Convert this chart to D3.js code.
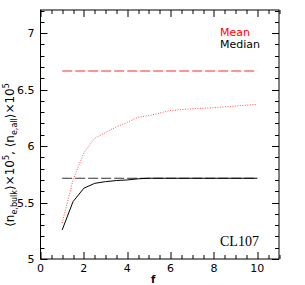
<!DOCTYPE html>
<html>
<head>
<meta charset="utf-8">
<script src="https://cdn.jsdelivr.net/npm/d3@7"></script>
<style>
  body { margin: 0; background: #fff; }
</style>
</head>
<body>
<svg id="drawing_region"></svg>
<script>
// data
const f_values = [1, 1.5, 2, 2.5, 3, 3.5, 4, 4.5, 5, 6, 7, 8, 9, 10];
const mean_values = [5.32, 5.70, 5.94, 6.07, 6.12, 6.17, 6.21, 6.255, 6.27, 6.315, 6.33, 6.34, 6.355, 6.37];
const median_values = [5.257, 5.508, 5.627, 5.67, 5.685, 5.695, 5.70, 5.71, 5.715, 5.715, 5.715, 5.715, 5.715, 5.715];
const mean_all = 6.665;
const median_all = 5.715;
const x_ticks = [0, 2, 4, 6, 8, 10];
const y_ticks = [5, 5.5, 6, 6.5, 7];

const config = {
  width: 305,
  height: 285,
  margin: { top: 10, right: 26, bottom: 26, left: 40.5 }
};

const sans = '"DejaVu Sans", sans-serif';
const svg = d3.select('#drawing_region').attr('width', config.width).attr('height', config.height)
  .attr('font-family', sans);
const inner_width = config.width - config.margin.left - config.margin.right;
const inner_height = config.height - config.margin.top - config.margin.bottom;
const chart = svg.append('g').attr('transform', `translate(${config.margin.left}, ${config.margin.top})`);

const xscale = d3.scaleLinear().domain([0, 11]).range([0, inner_width]);
const yscale = d3.scaleLinear().domain([5, 7.205]).range([inner_height, 0]);

// ticks on all four sides, pointing inward
const xminor = d3.range(0, 11.01, 0.5);
const yminor = d3.range(5, 7.201, 0.1).map(v => +v.toFixed(2));
const isMajorX = v => Math.abs(v / 2 - Math.round(v / 2)) < 1e-6;
const isMajorY = v => Math.abs(v / 0.5 - Math.round(v / 0.5)) < 1e-6;

const tg = chart.append('g').attr('stroke', '#000').attr('stroke-width', 1);
xminor.forEach(v => {
  const len = isMajorX(v) ? 7 : 4;
  const x = Math.round(xscale(v)) + 0.5;
  tg.append('line').attr('x1', x).attr('x2', x).attr('y1', inner_height).attr('y2', inner_height - len);
  tg.append('line').attr('x1', x).attr('x2', x).attr('y1', 0).attr('y2', len);
});
yminor.forEach(v => {
  const len = isMajorY(v) ? 7 : 4;
  const y = Math.round(yscale(v)) + 0.5;
  tg.append('line').attr('x1', 0).attr('x2', len).attr('y1', y).attr('y2', y);
  tg.append('line').attr('x1', inner_width).attr('x2', inner_width - len).attr('y1', y).attr('y2', y);
});

chart.append('rect')
  .attr('x', 0).attr('y', 0).attr('width', inner_width).attr('height', inner_height)
  .attr('fill', 'none').attr('stroke', '#000').attr('stroke-width', 1);

// tick labels
chart.append('g').selectAll('text').data(x_ticks).join('text')
  .attr('x', d => xscale(d)).attr('y', inner_height + 13)
  .attr('text-anchor', 'middle').attr('font-size', 11).text(d => d);
chart.append('g').selectAll('text').data(y_ticks).join('text')
  .attr('x', -6).attr('y', d => yscale(d) + 4)
  .attr('text-anchor', 'end').attr('font-size', 11).text(d => d);

// axis titles
svg.append('text').attr('x', config.margin.left + xscale(5.2)).attr('y', 283)
  .attr('text-anchor', 'middle').attr('font-size', 10).attr('font-weight', 'bold').text('f');

const ylab = svg.append('text')
  .attr('transform', 'translate(14,155) rotate(-90)')
  .attr('text-anchor', 'middle').attr('font-size', 12);
ylab.append('tspan').text('\u27E8n');
ylab.append('tspan').attr('font-size', 8).attr('dy', 3).text('e,bulk');
ylab.append('tspan').attr('dy', -3).text('\u27E9\u00D710');
ylab.append('tspan').attr('font-size', 8).attr('dy', -5).text('5');
ylab.append('tspan').attr('dy', 5).text(', \u27E8n');
ylab.append('tspan').attr('font-size', 8).attr('dy', 3).text('e,all');
ylab.append('tspan').attr('dy', -3).text('\u27E9\u00D710');
ylab.append('tspan').attr('font-size', 8).attr('dy', -5).text('5');

// lines
const line = d3.line().x(d => xscale(d[0])).y(d => yscale(d[1]));
const first = f_values[0], last = f_values[f_values.length - 1];

chart.append('path').attr('d', line([[first, mean_all], [last, mean_all]]))
  .attr('fill', 'none').attr('stroke', '#ff7070').attr('stroke-width', 1.4).attr('stroke-dasharray', '10,3');
chart.append('path').attr('d', line([[first, median_all], [last, median_all]]))
  .attr('fill', 'none').attr('stroke', '#333').attr('stroke-width', 1).attr('stroke-dasharray', '10,3');
chart.append('path').attr('d', line(f_values.map((f, i) => [f, mean_values[i]])))
  .attr('fill', 'none').attr('stroke', '#ff5050').attr('stroke-width', 1).attr('stroke-dasharray', '1,1.5');
chart.append('path').attr('d', line(f_values.map((f, i) => [f, median_values[i]])))
  .attr('fill', 'none').attr('stroke', '#000').attr('stroke-width', 1);

// legend and label
svg.append('text').attr('x', 220).attr('y', 36).attr('font-size', 11).attr('fill', 'red').text('Mean');
svg.append('text').attr('x', 220).attr('y', 48).attr('font-size', 11).attr('fill', '#000').text('Median');
svg.append('text').attr('x', 220).attr('y', 246).attr('font-family', '"Liberation Serif", serif')
  .attr('font-size', 14).text('CL107');
</script>
</body>
</html>
